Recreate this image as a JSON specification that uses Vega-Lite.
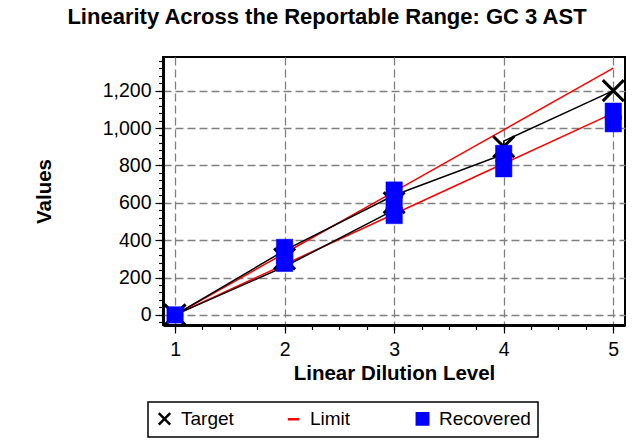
{
  "$schema": "https://vega.github.io/schema/vega-lite/v6.json",
  "width": 462,
  "height": 268,
  "autosize": "none",
  "padding": {"left": 163, "top": 57, "right": 16, "bottom": 122},
  "background": "white",
  "title": {
    "text": "Linearity Across the Reportable Range:  GC 3 AST",
    "font": "Liberation Sans",
    "fontSize": 22,
    "fontWeight": "bold",
    "color": "black",
    "anchor": "middle",
    "frame": "group",
    "dx": -67,
    "offset": 11,
    "baseline": "alphabetic"
  },
  "datasets": {
    "limits": [
      {"level": 1, "value": 0, "series": "Limit", "bound": "upper"},
      {"level": 2, "value": 330, "series": "Limit", "bound": "upper"},
      {"level": 3, "value": 660, "series": "Limit", "bound": "upper"},
      {"level": 4, "value": 990, "series": "Limit", "bound": "upper"},
      {"level": 5, "value": 1320, "series": "Limit", "bound": "upper"},
      {"level": 1, "value": 0, "series": "Limit", "bound": "lower"},
      {"level": 2, "value": 270, "series": "Limit", "bound": "lower"},
      {"level": 3, "value": 540, "series": "Limit", "bound": "lower"},
      {"level": 4, "value": 810, "series": "Limit", "bound": "lower"},
      {"level": 5, "value": 1080, "series": "Limit", "bound": "lower"}
    ],
    "targetLine": [
      {"level": 1, "value": 0, "series": "Target", "run": "A", "seq": 1},
      {"level": 2, "value": 345, "series": "Target", "run": "A", "seq": 2},
      {"level": 3, "value": 640, "series": "Target", "run": "A", "seq": 3},
      {"level": 4, "value": 860, "series": "Target", "run": "A", "seq": 4},
      {"level": 4, "value": 930, "series": "Target", "run": "A", "seq": 5},
      {"level": 5, "value": 1200, "series": "Target", "run": "A", "seq": 6},
      {"level": 1, "value": 0, "series": "Target", "run": "B", "seq": 1},
      {"level": 2, "value": 258, "series": "Target", "run": "B", "seq": 2},
      {"level": 3, "value": 562, "series": "Target", "run": "B", "seq": 3}
    ],
    "targets": [
      {"level": 1, "value": 0, "series": "Target"},
      {"level": 2, "value": 300, "series": "Target"},
      {"level": 3, "value": 600, "series": "Target"},
      {"level": 4, "value": 900, "series": "Target"},
      {"level": 5, "value": 1200, "series": "Target"}
    ],
    "recovered": [
      {"level": 1, "value": 0, "series": "Recovered"},
      {"level": 2, "value": 276, "series": "Recovered"},
      {"level": 2, "value": 320, "series": "Recovered"},
      {"level": 2, "value": 361, "series": "Recovered"},
      {"level": 3, "value": 532, "series": "Recovered"},
      {"level": 3, "value": 600, "series": "Recovered"},
      {"level": 3, "value": 668, "series": "Recovered"},
      {"level": 4, "value": 782, "series": "Recovered"},
      {"level": 4, "value": 864, "series": "Recovered"},
      {"level": 5, "value": 1023, "series": "Recovered"},
      {"level": 5, "value": 1090, "series": "Recovered"}
    ]
  },
  "layer": [
    {
      "data": {"name": "limits"},
      "mark": {"type": "line", "strokeWidth": 1.5},
      "encoding": {
        "x": {
          "field": "level", "type": "quantitative",
          "scale": {"domain": [0.89, 5.107], "nice": false, "zero": false},
          "axis": {"orient": "bottom", "values": [1, 1.25, 1.5, 1.75, 2, 2.25, 2.5, 2.75, 3, 3.25, 3.5, 3.75, 4, 4.25, 4.5, 4.75, 5], "labels": false, "grid": false, "domain": false, "tickSize": 4.5, "tickWidth": 1.2, "title": null}
        },
        "y": {
          "field": "value", "type": "quantitative",
          "scale": {"domain": [-54, 1380], "nice": false, "zero": false},
          "axis": {"orient": "left", "values": [-40, 0, 40, 80, 120, 160, 200, 240, 280, 320, 360, 400, 440, 480, 520, 560, 600, 640, 680, 720, 760, 800, 840, 880, 920, 960, 1000, 1040, 1080, 1120, 1160, 1200, 1240, 1280, 1320, 1360], "labels": false, "grid": false, "domain": false, "tickSize": 4.5, "tickWidth": 1.2, "title": null}
        },
        "stroke": {
          "field": "series", "type": "nominal",
          "scale": {"domain": ["Target", "Limit", "Recovered"], "range": ["black", "#ff0000", "#0000ff"]},
          "legend": {"title": null}
        },
        "detail": {"field": "bound"}
      }
    },
    {
      "data": {"name": "targetLine"},
      "mark": {"type": "line", "strokeWidth": 1.5},
      "encoding": {
        "x": {"field": "level", "type": "quantitative", "axis": {"orient": "bottom", "values": [1, 2, 3, 4, 5], "format": "d", "title": "Linear Dilution Level", "grid": true}},
        "y": {"field": "value", "type": "quantitative", "axis": {"orient": "left", "values": [0, 200, 400, 600, 800, 1000, 1200], "format": ",.0f", "title": "Values", "grid": true}},
        "stroke": {"field": "series", "type": "nominal", "legend": {"title": null}},
        "detail": {"field": "run"},
        "order": {"field": "seq"}
      }
    },
    {
      "data": {"name": "targets"},
      "mark": {"type": "point", "strokeWidth": 3, "size": 440, "opacity": 1},
      "encoding": {
        "x": {"field": "level", "type": "quantitative", "axis": null},
        "y": {"field": "value", "type": "quantitative", "axis": null},
        "stroke": {"field": "series", "type": "nominal", "legend": {"title": null}},
        "fill": {"field": "series", "type": "nominal", "scale": {"domain": ["Target", "Limit", "Recovered"], "range": ["black", "#ff0000", "#0000ff"]}, "legend": {"title": null}},
        "shape": {"field": "series", "type": "nominal", "scale": {"domain": ["Target", "Limit", "Recovered"], "range": ["M-1,-1L1,1M-1,1L1,-1", "stroke", "square"]}, "legend": {"title": null}}
      }
    },
    {
      "data": {"name": "recovered"},
      "mark": {"type": "point", "strokeWidth": 0.5, "size": 270, "opacity": 1},
      "encoding": {
        "x": {"field": "level", "type": "quantitative", "axis": null},
        "y": {"field": "value", "type": "quantitative", "axis": null},
        "stroke": {"field": "series", "type": "nominal", "legend": {"title": null}},
        "fill": {"field": "series", "type": "nominal", "legend": {"title": null}},
        "shape": {"field": "series", "type": "nominal", "legend": {"title": null}}
      }
    }
  ],
  "resolve": {"axis": {"x": "independent", "y": "independent"}},
  "config": {
    "font": "Liberation Sans",
    "view": {"stroke": "black", "strokeWidth": 2},
    "axis": {
      "domainColor": "black",
      "domainWidth": 3,
      "tickColor": "black",
      "tickWidth": 1.2,
      "tickSize": 8,
      "gridColor": "#808080",
      "gridDash": [8, 4],
      "gridWidth": 1.3,
      "gridOpacity": 1,
      "labelFont": "Liberation Sans",
      "labelFontSize": 19.5,
      "labelColor": "black",
      "titleFont": "Liberation Sans",
      "titleFontSize": 20.5,
      "titleFontWeight": "bold",
      "titleColor": "black"
    },
    "axisX": {"labelPadding": 7, "titlePadding": 5},
    "axisY": {"labelPadding": 4, "titlePadding": 48},
    "legend": {
      "orient": "none",
      "legendX": -15,
      "legendY": 345,
      "direction": "horizontal",
      "columns": 3,
      "gridAlign": "all",
      "columnPadding": 9,
      "padding": 7,
      "strokeColor": "black",
      "strokeWidth": 1.5,
      "fillColor": "white",
      "labelFont": "Liberation Sans",
      "labelFontSize": 19,
      "labelColor": "black",
      "labelOffset": 7,
      "symbolSize": 130,
      "symbolStrokeWidth": 2.5,
      "labelLimit": 200
    }
  }
}
